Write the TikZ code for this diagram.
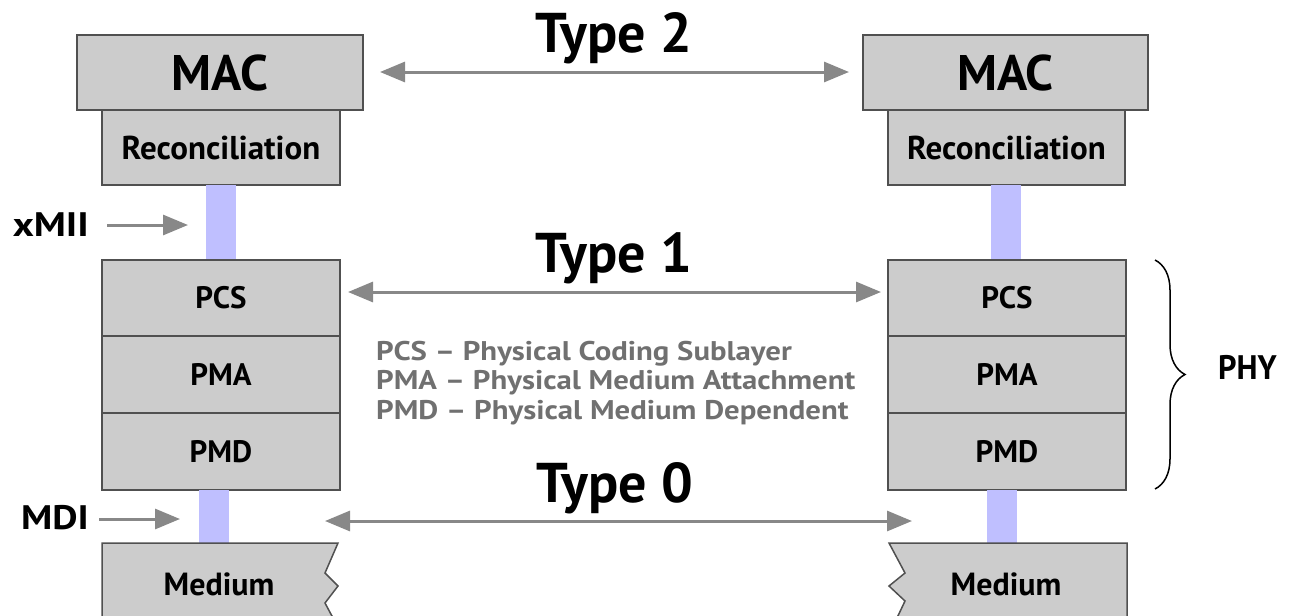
\documentclass[tikz,border=0pt]{standalone}
\usepackage{fontspec}
\setmainfont{PT Sans}
\usetikzlibrary{arrows.meta,decorations.pathreplacing}
\definecolor{boxfill}{HTML}{CCCCCC}
\definecolor{boxline}{HTML}{505050}
\definecolor{busfill}{HTML}{BFBFFF}
\definecolor{arrowgray}{HTML}{888888}
\definecolor{legendgray}{HTML}{707070}

\begin{document}
\begin{tikzpicture}[x=1pt,y=-1pt,
  boxbase/.style={draw=boxline, fill=boxfill, line width=1.5pt, inner sep=0pt, outer sep=0pt},
  macbox/.style={boxbase, minimum width=286pt, minimum height=75pt, font=\fontsize{50}{60}\selectfont\bfseries},
  recbox/.style={boxbase, minimum width=238pt, minimum height=75pt, font=\fontsize{33}{40}\selectfont\bfseries},
  phybox/.style={boxbase, minimum width=238pt, minimum height=77pt, font=\fontsize{31}{38}\selectfont\bfseries},
  bus/.style={fill=busfill, draw=none, inner sep=0pt, outer sep=0pt, minimum width=30pt},
  typelabel/.style={anchor=base, inner sep=0pt, font=\fontsize{56}{66}\selectfont\bfseries},
  sidelabel/.style={inner sep=0pt, font=\fontsize{34}{40}\selectfont\bfseries},
  medtext/.style={inner sep=0pt, font=\fontsize{32}{38}\selectfont\bfseries},
  mediumline/.style={draw=boxline, line width=1.5pt, line join=miter},
  arr/.style={draw=arrowgray, line width=3pt, -{Triangle[length=25pt, width=20pt]}},
  dblarr/.style={draw=arrowgray, line width=3pt, {Triangle[length=25pt, width=20pt]}-{Triangle[length=25pt, width=20pt]}}
]
\useasboundingbox (0,0) rectangle (1291,616);

% ---- left station ----
\node[macbox] (macL) at (220,72.5) {MAC};
\node[recbox] (recL) at (221,147.5) {Reconciliation};
\node[bus, minimum height=75pt] (xbusL) at (221,222.5) {};
\node[phybox, minimum height=76pt] (pcsL) at (221,298) {PCS};
\node[phybox] (pmaL) at (221,374.5) {PMA};
\node[phybox] (pmdL) at (221,451.5) {PMD};
\node[bus, minimum height=53pt] (mbusL) at (214,516.5) {};
\fill[boxfill] (102,543) -- (338,543) -- (325,573) -- (338,586) -- (325,603) -- (333,616) -- (102,616) -- cycle;
\draw[mediumline] (102,618) -- (102,543) -- (338,543) -- (325,573) -- (338,586) -- (325,603) -- (333,618);
\node[medtext] (medL) at (219,584) {Medium};

% ---- right station ----
\node[macbox, minimum width=285pt] (macR) at (1005.5,72.5) {MAC};
\node[recbox, minimum width=237pt] (recR) at (1006.5,147.5) {Reconciliation};
\node[bus, minimum height=75pt] (xbusR) at (1006,222.5) {};
\node[phybox, minimum height=76pt] (pcsR) at (1007,298) {PCS};
\node[phybox] (pmaR) at (1007,374.5) {PMA};
\node[phybox] (pmdR) at (1007,451.5) {PMD};
\node[bus, minimum height=53pt] (mbusR) at (1001.5,516.5) {};
\fill[boxfill] (1127,543) -- (889,543) -- (905,573) -- (889,586) -- (905,601) -- (897,616) -- (1127,616) -- cycle;
\draw[mediumline] (1127,618) -- (1127,543) -- (889,543) -- (905,573) -- (889,586) -- (905,601) -- (897,618);
\node[medtext] (medR) at (1006,584) {Medium};

% ---- peer relations ----
\node[typelabel] (type2) at (614,52) {Type 2};
\node[typelabel] (type1) at (614,272) {Type 1};
\node[typelabel] (type0) at (615,502) {Type 0};
\coordinate (t2a) at (380,72);  \coordinate (t2b) at (849,72);
\coordinate (t1a) at (348,292); \coordinate (t1b) at (881,292);
\coordinate (t0a) at (325,521); \coordinate (t0b) at (912,521);
\draw[dblarr] (t2a) -- (t2b);
\draw[dblarr] (t1a) -- (t1b);
\draw[dblarr] (t0a) -- (t0b);

% ---- legend ----
\node[anchor=north west, align=left, inner sep=0pt, text=legendgray,
      font=\fontsize{27}{29.5}\selectfont\bfseries] (legend) at (376,341)
  {\scalebox{1.14}[1]{PCS -- Physical Coding Sublayer}\\
   \scalebox{1.14}[1]{PMA -- Physical Medium Attachment}\\
   \scalebox{1.14}[1]{PMD -- Physical Medium Dependent}};

% ---- interface markers ----
\node[sidelabel, anchor=east] (xmii) at (89,225) {\scalebox{1.18}[1]{xMII}};
\coordinate (xmiiT) at (188,225);
\draw[arr] ([xshift=18pt]xmii.east |- xmiiT) -- (xmiiT);
\node[sidelabel, anchor=east] (mdi) at (89,518) {\scalebox{1.15}[1]{MDI}};
\coordinate (mdiT) at (180,519);
\draw[arr] ([xshift=10pt]mdi.east |- mdiT) -- (mdiT);

% ---- PHY brace ----
\coordinate (braceTop) at (1155,260);
\coordinate (braceBot) at (1155,489);
\draw[decorate, decoration={brace, amplitude=30pt}, line width=1.5pt] (braceTop) -- (braceBot);
\node[sidelabel, anchor=west] (phy) at (1218,367) {\scalebox{0.95}[1]{PHY}};
\end{tikzpicture}
\end{document}
